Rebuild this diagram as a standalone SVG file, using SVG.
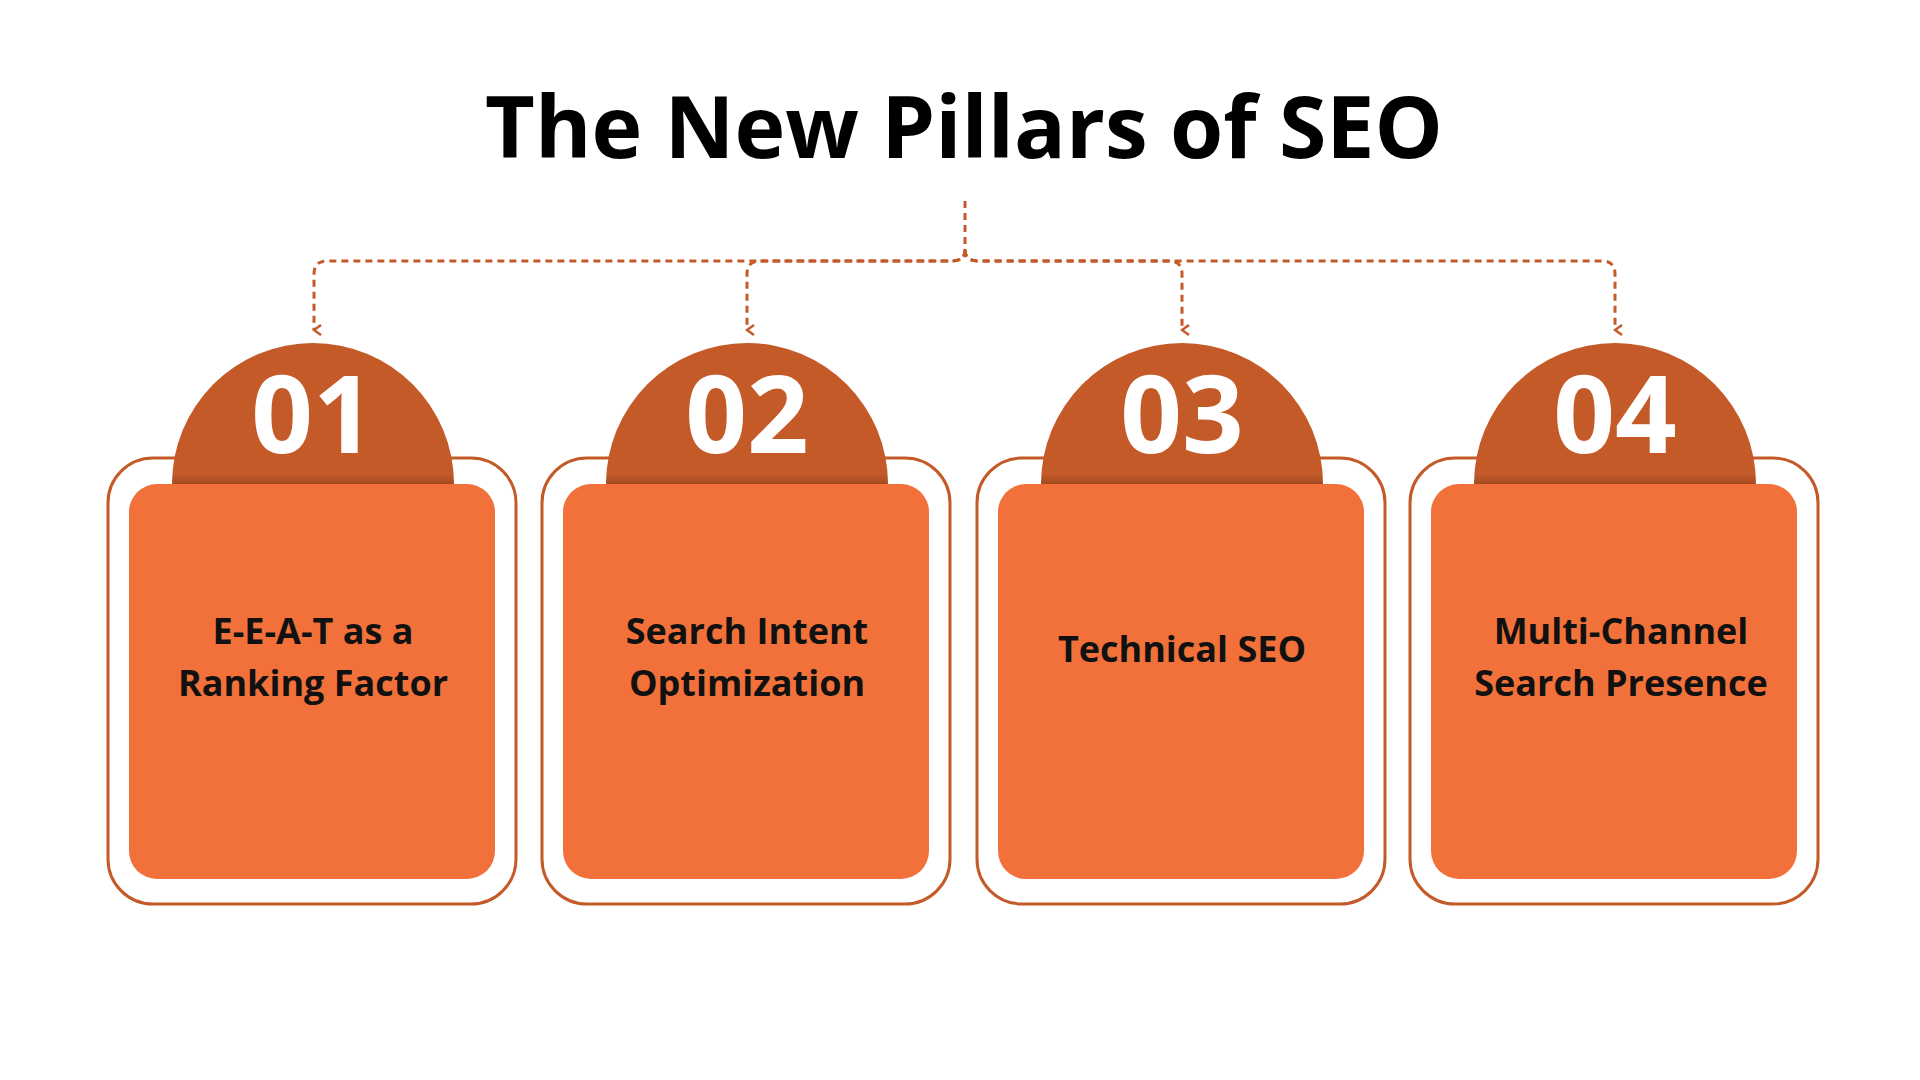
<svg xmlns="http://www.w3.org/2000/svg" width="1920" height="1080" viewBox="0 0 1920 1080">
<defs>
<style>
.t{font-family:"Open Sans","Noto Sans",sans-serif;font-weight:700}
.outer{fill:#fff;stroke:#C45A28;stroke-width:3}
.inner{fill:#F2713A}
.dome{fill:#C45A28}
.num{fill:#fff;font-size:108px;text-anchor:middle}
.lbl{fill:#111;font-size:36px;text-anchor:middle}
.c{fill:none;stroke:#C45A28;stroke-width:3;stroke-dasharray:7 5;marker-end:url(#a)}
</style>
<marker id="a" viewBox="0 0 12 10" refX="6" refY="8" markerWidth="12" markerHeight="10" markerUnits="userSpaceOnUse" orient="auto-start-reverse"><path d="M1,1 L6,8 L11,1" fill="none" stroke="#C45A28" stroke-width="2.5"/></marker>
<linearGradient id="sh" x1="0" y1="0" x2="0" y2="1"><stop offset="0" stop-color="#000" stop-opacity="0"/><stop offset="1" stop-color="#000" stop-opacity="0.45"/></linearGradient>
<g id="card">
<rect class="outer" x="-205" y="-16" width="408" height="446" rx="45"/>
<path class="dome" d="M-141,10 A141,141 0 0 1 141,10 V26 H-141 Z"/>
<rect x="-141" y="0" width="282" height="26" fill="url(#sh)"/>
<rect class="inner" x="-184" y="10" width="366" height="395" rx="28"/>
</g>
</defs>
<text class="t" x="964" y="158" font-size="86" text-anchor="middle" fill="#000">The New Pillars of SEO</text>
<g id="connectors">
<path class="c" d="M965,201 V250 Q965,261 952,261 H327 Q314,261 314,274 V330"/>
<path class="c" d="M965,250 Q965,261 952,261 H760 Q747,261 747,274 V330"/>
<path class="c" d="M965,250 Q965,261 978,261 H1169 Q1182,261 1182,274 V330"/>
<path class="c" d="M965,250 Q965,261 978,261 H1602 Q1615,261 1615,274 V330"/>
</g>
<g id="n1" transform="translate(313,474)"><use href="#card"/><text class="t num" x="0" y="-21">01</text><text class="t lbl" y="170">E-E-A-T as a</text><text class="t lbl" y="222">Ranking Factor</text></g>
<g id="n2" transform="translate(747,474)"><use href="#card"/><text class="t num" x="0" y="-21">02</text><text class="t lbl" y="170">Search Intent</text><text class="t lbl" y="222">Optimization</text></g>
<g id="n3" transform="translate(1182,474)"><use href="#card"/><text class="t num" x="0" y="-21">03</text><text class="t lbl" y="188">Technical SEO</text></g>
<g id="n4" transform="translate(1615,474)"><use href="#card"/><text class="t num" x="0" y="-21">04</text><text class="t lbl" x="6" y="170">Multi-Channel</text><text class="t lbl" x="6" y="222">Search Presence</text></g>
</svg>
